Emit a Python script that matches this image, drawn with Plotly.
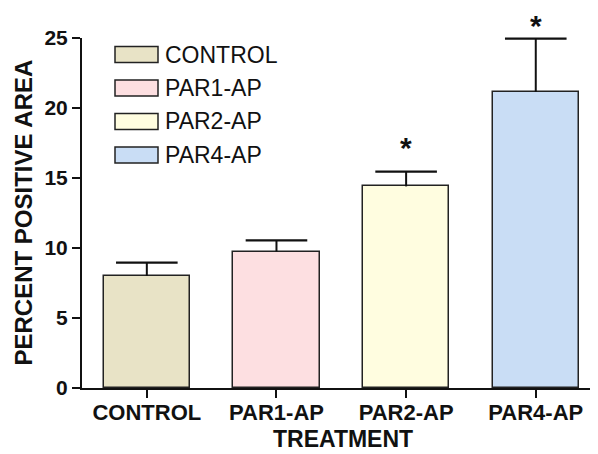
import plotly.graph_objects as go

categories = ["CONTROL", "PAR1-AP", "PAR2-AP", "PAR4-AP"]
values = [8.0, 9.75, 14.4, 21.15]
errors = [0.95, 0.8, 1.05, 3.8]
stars = ["", "", "*", "*"]
star_y = [None, None, 17.5, 26.2]
colors = ["#E8E3C6", "#FDDFE1", "#FFFDE0", "#C9DDF5"]
y_ticks = [0, 5, 10, 15, 20, 25]
Y_MAX = 25

FONT = "Arial, Liberation Sans, sans-serif"
OFF = 8  # page body margin
W, H = 598 - OFF, 454 - OFF
L, R, T, B = 82 - OFF, 0, 38 - OFF, 66
PW, PH = W - L - R, H - T - B


def px_x(p):
    return (p - OFF - L) / PW


def px_y(q):
    return (T + PH - (q - OFF)) / PH


xs = list(range(len(categories)))
tops = [v + e for v, e in zip(values, errors)]

fig = go.Figure()
fig.add_trace(go.Bar(
    x=xs,
    y=values,
    width=0.665,
    marker=dict(color=colors, line=dict(color="#222222", width=1.5)),
    error_y=dict(type="data", symmetric=False, array=errors,
                 arrayminus=[0] * len(errors),
                 color="#111111", thickness=2, width=0),
    showlegend=False,
))
# caps of the error bars
fig.add_trace(go.Scatter(
    x=xs, y=tops, mode="markers",
    marker=dict(symbol="line-ew", size=44,
                line=dict(color="#111111", width=2.2)),
    showlegend=False, hoverinfo="skip", cliponaxis=False,
))

annotations = []
for i, (s, sy) in enumerate(zip(stars, star_y)):
    if s:
        annotations.append(dict(
            x=i, y=sy / Y_MAX, xref="x", yref="paper",
            text="<b>%s</b>" % s, showarrow=False, yanchor="middle", yshift=-4,
            font=dict(family=FONT, size=30, color="#111111"),
        ))

# legend drawn manually
shapes = []
row_px = [54.5, 88, 121.5, 155]
for name, col, rp in zip(categories, colors, row_px):
    yc = px_y(rp)
    shapes.append(dict(type="rect", xref="paper", yref="paper",
                       x0=px_x(115), x1=px_x(158),
                       y0=yc - 8 / PH, y1=yc + 8 / PH,
                       fillcolor=col, line=dict(color="#222222", width=1.5)))
    annotations.append(dict(xref="paper", yref="paper", x=px_x(163), y=yc,
                            text=name, showarrow=False, xanchor="left",
                            yanchor="middle",
                            font=dict(family=FONT, size=23, color="#111111")))

annotations.append(dict(xref="paper", yref="paper", x=px_x(22.5), y=0.5,
                        text="<b>PERCENT POSITIVE AREA</b>", textangle=-90,
                        showarrow=False, xanchor="center", yanchor="middle",
                        font=dict(family=FONT, size=24, color="#111111")))
annotations.append(dict(xref="paper", yref="paper", x=px_x(343),
                        y=px_y(438.7), text="<b>TREATMENT</b>",
                        showarrow=False, xanchor="center", yanchor="middle",
                        font=dict(family=FONT, size=23, color="#111111")))

fig.update_layout(
    width=W, height=H,
    margin=dict(l=L, r=R, t=T, b=B, autoexpand=False),
    paper_bgcolor="white", plot_bgcolor="white",
    shapes=shapes, annotations=annotations,
    font=dict(family=FONT, color="#111111"),
    bargap=0,
)
fig.update_xaxes(
    range=[-0.5, 3.48], tickmode="array",
    tickvals=xs,
    ticktext=["<b>%s</b>" % c for c in categories],
    tickfont=dict(family=FONT, size=22, color="#111111"),
    ticks="outside", ticklen=8, tickwidth=2, tickcolor="#111111",
    ticklabelstandoff=-4,
    showline=True, linecolor="#111111", linewidth=2,
    showgrid=False, zeroline=False, fixedrange=True,
)
fig.update_yaxes(
    range=[0, Y_MAX], tickmode="array", tickvals=y_ticks,
    ticktext=["<b>%d</b>" % v for v in y_ticks],
    tickfont=dict(family=FONT, size=21, color="#111111"),
    ticks="outside", ticklen=8, tickwidth=2, tickcolor="#111111",
    showline=True, linecolor="#111111", linewidth=2,
    showgrid=False, zeroline=False, fixedrange=True,
)

fig.write_html("out.html", config=dict(displayModeBar=False))
